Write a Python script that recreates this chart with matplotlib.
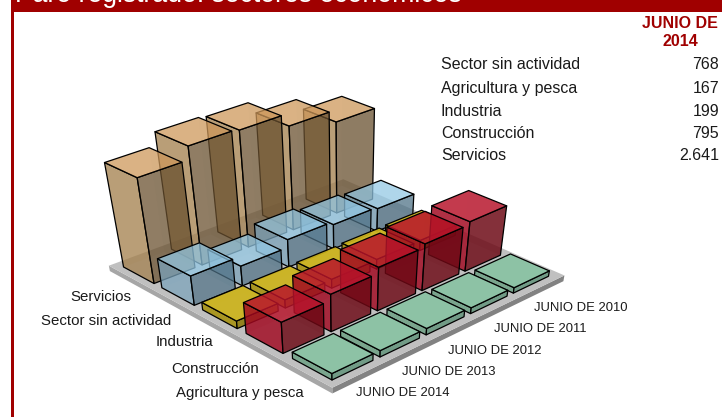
import matplotlib
matplotlib.use('Agg')
import matplotlib.pyplot as plt
from matplotlib.colors import to_rgba
from matplotlib.patches import Polygon, Rectangle

plt.rcParams['font.family'] = ['Liberation Sans', 'DejaVu Sans']

# data, front to back on each axis
years = ['JUNIO DE 2014', 'JUNIO DE 2013', 'JUNIO DE 2012', 'JUNIO DE 2011', 'JUNIO DE 2010']
sectors = ['Agricultura y pesca', 'Construcción', 'Industria', 'Sector sin actividad', 'Servicios']
agricultura = [167, 165, 165, 150, 140]
construccion = [795, 950, 1100, 1180, 1250]
industria = [199, 215, 235, 255, 270]
sin_actividad = [768, 520, 720, 640, 600]
servicios = [2641, 2950, 2915, 2620, 2330]
values = [agricultura, construccion, industria, sin_actividad, servicios]

table_names = ['Sector sin actividad', 'Agricultura y pesca', 'Industria', 'Construcción', 'Servicios']
table_values = ['768', '167', '199', '795', '2.641']

# top, left side, right side, alpha
colors = [
    ('#8cc3a5', '#78a58c', '#6f9a84', 0.97),
    ('#b8142b', '#a10820', '#6c0814', 0.82),
    ('#cdb41c', '#a89316', '#8f7d12', 0.92),
    ('#95cbe8', '#7aa3bb', '#4d7085', 0.70),
    ('#d09a5c', '#a27e4a', '#69502f', 0.72),
]
DARK_RED = '#a00000'
BAR_W = 0.85
BAR_D = 0.80


def project(u, v, z):
    # perspective camera fitted by eye to the reference floor grid, in pixels
    w = 1 + 0.02 * u + 0.035 * v - 3.51e-5 * z
    x = 332 + 55.6 * u - 39.1 * v + 0.8 * u * v - 0.0121 * z
    y = 380 - 15.86 * u - 14.2 * v - 0.0519 * z
    return x / w, y / w


def face(ax, corners, color, alpha=1.0, edge='none', lw=0.9):
    pts = [project(*c) for c in corners]
    ax.add_patch(Polygon(pts, closed=True, facecolor=to_rgba(color, alpha), edgecolor=edge,
                         linewidth=lw if edge != 'none' else 0, joinstyle='round'))


def bar(ax, u, v, h, top, left, right, alpha):
    u1, v1 = u + BAR_W, v + BAR_D
    # back faces, faint, show through the front ones
    face(ax, [(u1, v, 0), (u1, v1, 0), (u1, v1, h), (u1, v, h)], right, 0.10)
    face(ax, [(u, v1, 0), (u1, v1, 0), (u1, v1, h), (u, v1, h)], left, 0.10)
    face(ax, [(u, v, 0), (u, v1, 0), (u, v1, h), (u, v, h)], left, alpha, 'black')
    face(ax, [(u, v, 0), (u1, v, 0), (u1, v, h), (u, v, h)], right, alpha, 'black')
    face(ax, [(u, v, h), (u1, v, h), (u1, v1, h), (u, v1, h)], top, alpha, 'black')


fig = plt.figure(figsize=(7.22, 4.17), dpi=100)
ax = fig.add_axes([0, 0, 1, 1])
ax.set_xlim(0, 722)
ax.set_ylim(417, 0)
ax.axis('off')

# frame and header
ax.add_patch(Rectangle((11, 0), 711, 12, color=DARK_RED, lw=0))
ax.add_patch(Rectangle((11, 0), 2.5, 417, color=DARK_RED, lw=0))
ax.text(15, 1.5, 'Paro registrado: sectores económicos', color='white', fontsize=19.2,
        ha='left', va='baseline')

# platform
lo, hi_u, hi_v, thick = -0.15, 5.06, 5.0, -150
face(ax, [(lo, lo, thick), (hi_u, lo, thick), (hi_u, lo, 0), (lo, lo, 0)], '#828282')
face(ax, [(lo, lo, thick), (lo, hi_v, thick), (lo, hi_v, 0), (lo, lo, 0)], '#a6a6a6')
face(ax, [(lo, lo, 0), (hi_u, lo, 0), (hi_u, hi_v, 0), (lo, hi_v, 0)], '#c0c0c0')

# bars, back to front
for v in range(len(sectors) - 1, -1, -1):
    for u in range(len(years) - 1, -1, -1):
        bar(ax, u, v, values[v][u], *colors[v])

# axis labels
sector_x = [304, 259, 213, 171, 131]
sector_y = [393, 369, 342, 321, 297]
for name, x, y in zip(sectors, sector_x, sector_y):
    ax.text(x, y, name, fontsize=10.8, color='#1a1a1a', ha='right', va='center')

year_x = [449, 496, 541, 586, 627]
year_y = [393, 372, 351, 329, 308]
for name, x, y in zip(years, year_x, year_y):
    ax.text(x, y, name, fontsize=9.35, color='#1a1a1a', ha='right', va='center')

# table
ax.text(680, 23, 'JUNIO DE', color=DARK_RED, fontsize=11.5, fontweight='bold', ha='center', va='center')
ax.text(680, 41, '2014', color=DARK_RED, fontsize=11.5, fontweight='bold', ha='center', va='center')
table_y = [64, 88, 111, 134, 156]
for name, val, y in zip(table_names, table_values, table_y):
    ax.text(441, y, name, fontsize=11.5, color='#1a1a1a', ha='left', va='center')
    ax.text(719, y, val, fontsize=11.5, color='#1a1a1a', ha='right', va='center')

fig.savefig('out.png', dpi=100)
